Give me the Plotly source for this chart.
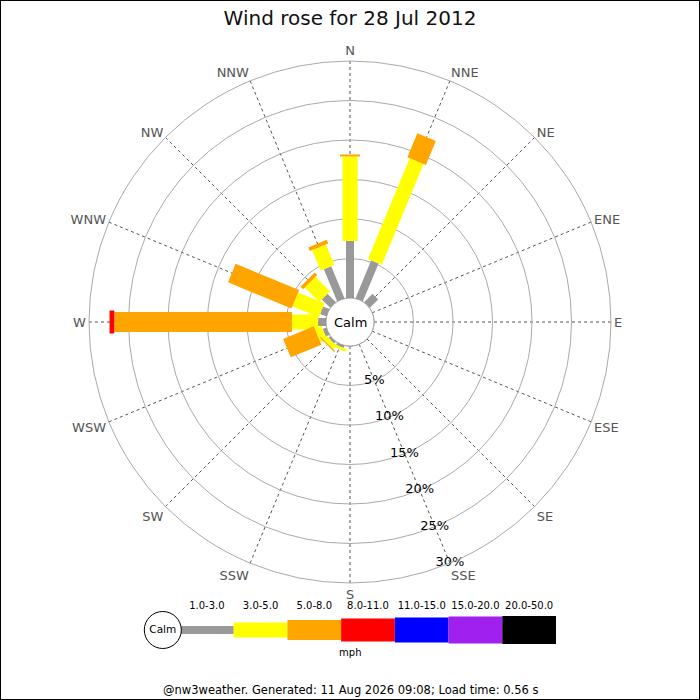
import numpy as np
import plotly.graph_objects as go

# compass points, clockwise from north
directions = ['N', 'NNE', 'NE', 'ENE', 'E', 'ESE', 'SE', 'SSE',
              'S', 'SSW', 'SW', 'WSW', 'W', 'WNW', 'NW', 'NNW']
dir_angles = [i * 22.5 for i in range(16)]

# speed bands (mph) and their colours
speed_bins = ['1.0-3.0', '3.0-5.0', '5.0-8.0', '8.0-11.0', '11.0-15.0', '15.0-20.0', '20.0-50.0']
bin_colors = ['#999999', '#ffff00', '#ffa500', '#ff0000', '#0000ff', '#a020f0', '#000000']
bin_widths = [8, 15, 20, 23, 25, 27, 28]

# frequency (%) per direction for each band
f_1_3   = [7.2, 5.2, 1.5, 0, 0, 0, 0, 0, 0, 0.3, 0.3, 0.5, 1.0, 0.85, 1.5, 4.4]
f_3_5   = [10.7, 13.8, 0, 0, 0, 0, 0, 0, 0, 0.35, 0.6, 0.9, 3.3, 3.6, 2.6, 2.8]
f_5_8   = [0.25, 3.3, 0, 0, 0, 0, 0, 0, 0, 0, 0.15, 4.2, 22.5, 8.7, 0.45, 0.5]
f_8_11  = [0, 0, 0, 0, 0, 0, 0, 0, 0, 0, 0, 0, 0.6, 0, 0, 0]
f_11_15 = [0] * 16
f_15_20 = [0] * 16
f_20_50 = [0] * 16
freqs = [f_1_3, f_3_5, f_5_8, f_8_11, f_11_15, f_15_20, f_20_50]

pct_ticks = [5, 10, 15, 20, 25, 30]
pct_label_dir = 157.5  # ring labels sit on the SSE spoke

title = 'Wind rose for 28 Jul 2012'
footer = '@nw3weather. Generated: 11 Aug 2026 09:08; Load time: 0.56 s'
font = 'DejaVu Sans'

fig = go.Figure()

# stacked bars drawn as thick radial lines (constant pixel width like the original)
cum = np.zeros(16)
for name, vals, col, w in zip(speed_bins, freqs, bin_colors, bin_widths):
    vals = np.array(vals, dtype=float)
    rr, tt = [], []
    for k in range(16):
        if vals[k] > 0:
            rr += [cum[k], cum[k] + vals[k], None]
            tt += [dir_angles[k], dir_angles[k], None]
    cum = cum + vals
    if rr:
        fig.add_trace(go.Scatterpolar(r=rr, theta=tt, mode='lines',
                                      line=dict(color=col, width=w),
                                      name=name, showlegend=False, hoverinfo='skip'))

# calm circle outline (edge of the hole)
circ = np.linspace(0, 360, 181)
fig.add_trace(go.Scatterpolar(r=[0] * len(circ), theta=circ, mode='lines',
                              line=dict(color='#777777', width=1),
                              showlegend=False, hoverinfo='skip'))

# percentage labels centred on the rings along the SSE spoke
fig.add_trace(go.Scatterpolar(r=pct_ticks, theta=[pct_label_dir] * len(pct_ticks),
                              mode='text', text=[str(p) + '%' for p in pct_ticks],
                              textposition='middle center', cliponaxis=False,
                              textfont=dict(family=font, size=13, color='#000000'),
                              showlegend=False, hoverinfo='skip'))

# key below the rose, on its own small axis
for i, (name, col, w) in enumerate(zip(speed_bins, bin_colors, bin_widths)):
    fig.add_trace(go.Scatter(x=[i, i + 1], y=[0, 0], mode='lines',
                             line=dict(color=col, width=w),
                             xaxis='x', yaxis='y', showlegend=False, hoverinfo='skip'))
fig.add_trace(go.Scatter(x=[i + 0.5 for i in range(len(speed_bins))], y=[1.65] * len(speed_bins),
                         mode='text', text=speed_bins, cliponaxis=False,
                         textfont=dict(family=font, size=10, color='#000000'),
                         xaxis='x', yaxis='y', showlegend=False, hoverinfo='skip'))
fig.add_trace(go.Scatter(x=[3.17], y=[-1.65], mode='text', text=['mph'], cliponaxis=False,
                         textfont=dict(family=font, size=10, color='#000000'),
                         xaxis='x', yaxis='y', showlegend=False, hoverinfo='skip'))
fig.add_trace(go.Scatter(x=[-0.32], y=[0], mode='markers+text', text=['Calm'],
                         textposition='middle center', cliponaxis=False,
                         marker=dict(size=37, color='white', line=dict(color='#000000', width=1)),
                         textfont=dict(family=font, size=10.5, color='#000000'),
                         xaxis='x', yaxis='y', showlegend=False, hoverinfo='skip'))

unit = 376 / 7  # key pixels per band
fig.update_layout(
    width=700, height=700,
    margin=dict(l=0, r=0, t=0, b=0),
    paper_bgcolor='white', plot_bgcolor='white',
    font=dict(family=font, color='#000000'),
    title=dict(text=title, x=0.5, xanchor='center', y=0.975, yanchor='middle',
               font=dict(family=font, size=20, color='#111111')),
    polar=dict(
        domain=dict(x=[89 / 700, 611 / 700], y=[117 / 700, 639 / 700]),
        hole=0.092,
        bgcolor='white',
        radialaxis=dict(range=[0, 30], tickvals=pct_ticks, showticklabels=False,
                        angle=-67.5, showline=False, ticks='',
                        gridcolor='#aaaaaa', gridwidth=1),
        angularaxis=dict(rotation=90, direction='clockwise',
                         tickvals=dir_angles, ticktext=directions,
                         showline=True, linecolor='#aaaaaa', linewidth=1,
                         gridcolor='#555555', gridwidth=1, griddash='dot',
                         ticks='',
                         tickfont=dict(family=font, size=13, color='#555555')),
    ),
    xaxis=dict(domain=[(180 - 0.8 * unit) / 700, 556 / 700], range=[-0.8, 7],
               visible=False, fixedrange=True),
    yaxis=dict(domain=[0.04, 0.16], range=[-3, 3], visible=False, fixedrange=True),
    annotations=[
        dict(text='Calm', x=0.5, y=378 / 700, xref='paper', yref='paper', showarrow=False,
             font=dict(family=font, size=13, color='#000000')),
        dict(text=footer, x=0.5, y=10 / 700, xref='paper', yref='paper', showarrow=False,
             yanchor='middle', font=dict(family=font, size=11.5, color='#000000')),
    ],
    shapes=[dict(type='rect', xref='paper', yref='paper', x0=0, y0=0, x1=1, y1=1,
                 line=dict(color='#000000', width=2))],
)

# drop the default page margin so the figure sits at the window corner
fig.write_html('out.html', config={'displayModeBar': False},
               post_script="document.body.style.margin='0px';")
